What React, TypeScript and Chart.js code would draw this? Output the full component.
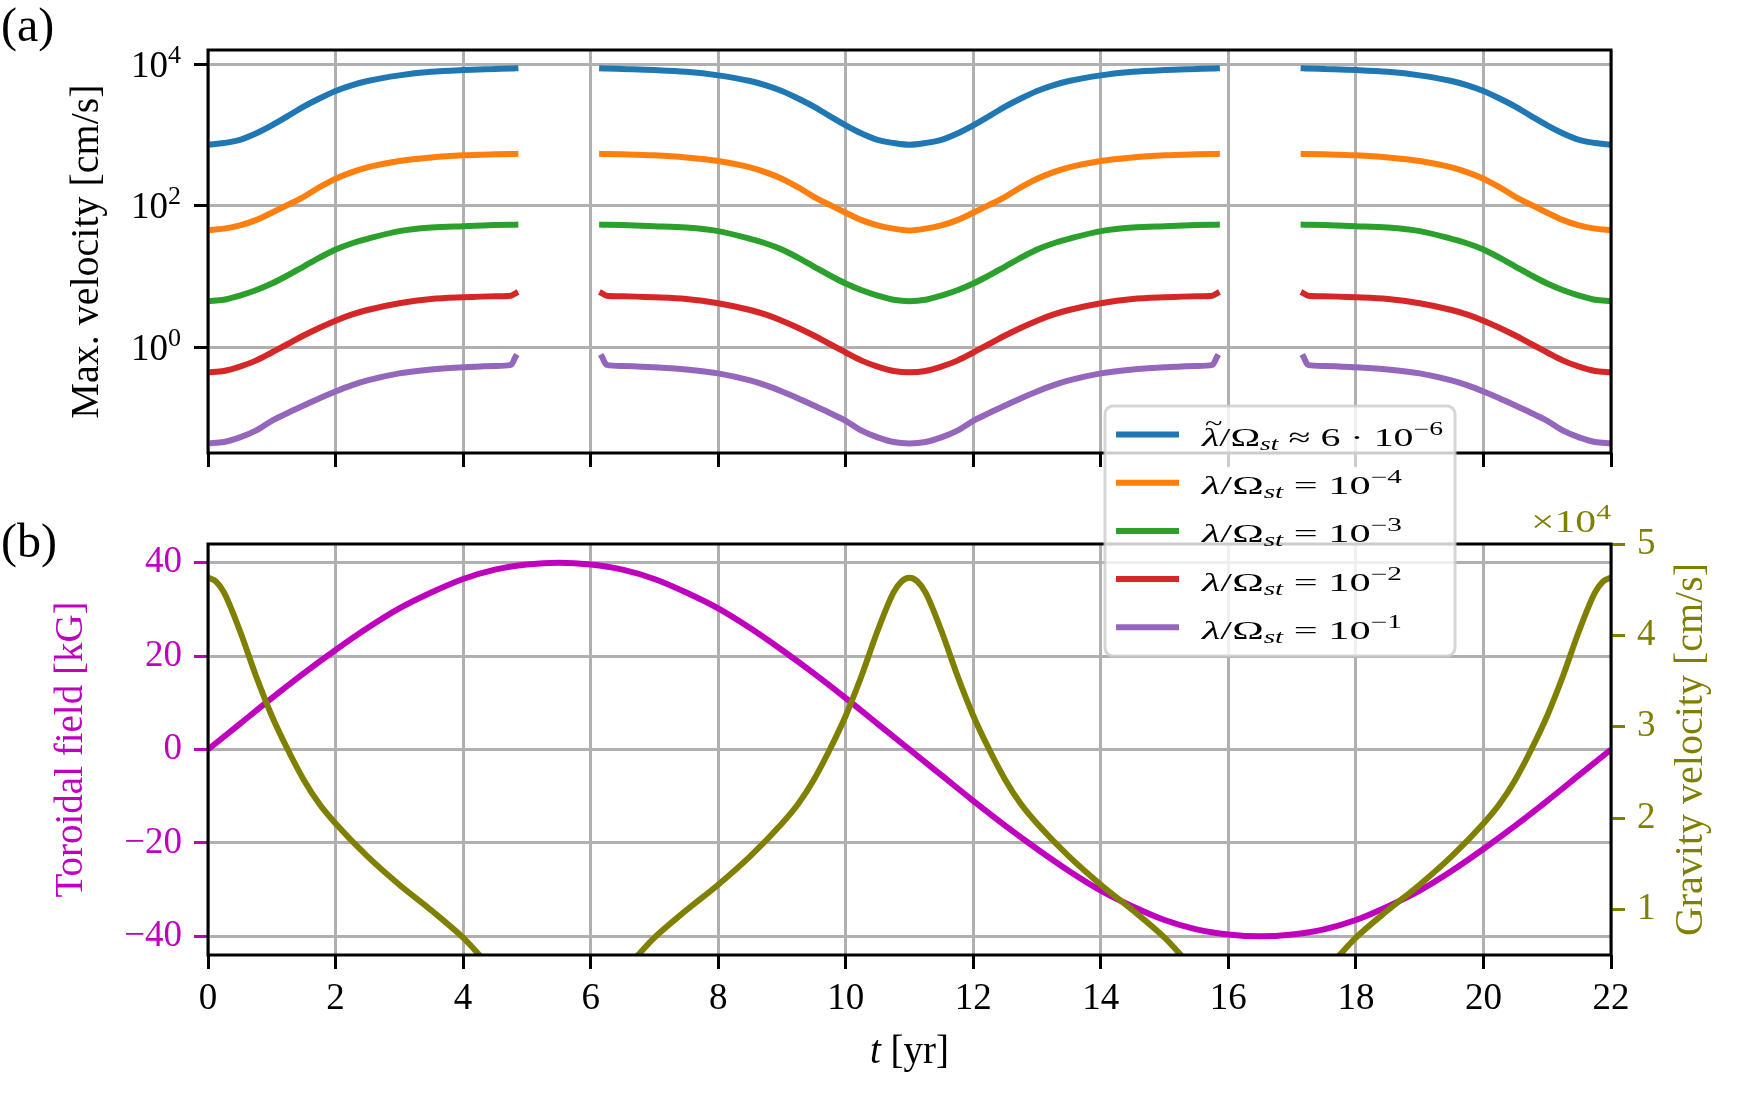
import React, { useEffect, useRef } from 'react';
import { Chart, registerables } from 'chart.js';

Chart.register(...registerables);

const W = 1744;
const H = 1102;
const SERIF = '"Liberation Serif", "DejaVu Serif", serif';
const GRID = '#b0b0b0';
const MAGENTA = '#bf00bf';
const OLIVE = '#808000';

// (a) max. velocity [cm/s] vs time [yr]; the null rows are the gaps near field maximum
const velTime = [
  0, 0.25, 0.5, 0.75, 1, 1.25, 1.5, 1.75, 2, 2.25, 2.5, 3, 3.5, 4, 4.5, 4.75, 4.82,
  5.5,
  6.18, 6.25, 6.5, 7, 7.5, 8, 8.5, 8.75, 9, 9.25, 9.5, 9.75, 10, 10.25, 10.5, 10.75, 11,
  11.25, 11.5, 11.75, 12, 12.25, 12.5, 12.75, 13, 13.25, 13.5, 14, 14.5, 15, 15.5, 15.75, 15.82,
  16.5,
  17.18, 17.25, 17.5, 18, 18.5, 19, 19.5, 19.75, 20, 20.25, 20.5, 20.75, 21, 21.25, 21.5, 21.75, 22,
];
const velBlue = [
  724, 767, 851, 1047, 1365, 1841, 2512, 3273, 4169, 5012, 5754, 6918, 7762, 8222, 8511, 8650, 8710,
  null,
  8710, 8650, 8511, 8222, 7762, 6918, 5754, 5012, 4169, 3273, 2512, 1841, 1365, 1047, 851, 767, 724,
  767, 851, 1047, 1365, 1841, 2512, 3273, 4169, 5012, 5754, 6918, 7762, 8222, 8511, 8650, 8710,
  null,
  8710, 8650, 8511, 8222, 7762, 6918, 5754, 5012, 4169, 3273, 2512, 1841, 1365, 1047, 851, 767, 724,
];
const velOrange = [
  44.7, 47.3, 52.5, 62.4, 79.4, 102.3, 133.4, 182.0, 239.9, 295.1, 346.7, 426.6, 478.6, 512.9, 530.9, 537.0, 538.3,
  null,
  538.3, 537.0, 530.9, 512.9, 478.6, 426.6, 346.7, 295.1, 239.9, 182.0, 133.4, 102.3, 79.4, 62.4, 52.5, 47.3, 44.7,
  47.3, 52.5, 62.4, 79.4, 102.3, 133.4, 182.0, 239.9, 295.1, 346.7, 426.6, 478.6, 512.9, 530.9, 537.0, 538.3,
  null,
  538.3, 537.0, 530.9, 512.9, 478.6, 426.6, 346.7, 295.1, 239.9, 182.0, 133.4, 102.3, 79.4, 62.4, 52.5, 47.3, 44.7,
];
const velGreen = [
  4.47, 4.68, 5.37, 6.38, 7.94, 10.35, 13.8, 18.41, 23.99, 29.17, 33.88, 43.65, 48.98, 51.29, 53.09, 53.7, 53.83,
  null,
  53.83, 53.7, 53.09, 51.29, 48.98, 43.65, 33.88, 29.17, 23.99, 18.41, 13.8, 10.35, 7.94, 6.38, 5.37, 4.68, 4.47,
  4.68, 5.37, 6.38, 7.94, 10.35, 13.8, 18.41, 23.99, 29.17, 33.88, 43.65, 48.98, 51.29, 53.09, 53.7, 53.83,
  null,
  53.83, 53.7, 53.09, 51.29, 48.98, 43.65, 33.88, 29.17, 23.99, 18.41, 13.8, 10.35, 7.94, 6.38, 5.37, 4.68, 4.47,
];
const velRed = [
  0.442, 0.462, 0.531, 0.646, 0.841, 1.109, 1.462, 1.884, 2.371, 2.884, 3.35, 4.169, 4.786, 5.07, 5.248, 5.346, 5.754,
  null,
  5.754, 5.346, 5.248, 5.07, 4.786, 4.169, 3.35, 2.884, 2.371, 1.884, 1.462, 1.109, 0.841, 0.646, 0.531, 0.462, 0.442,
  0.462, 0.531, 0.646, 0.841, 1.109, 1.462, 1.884, 2.371, 2.884, 3.35, 4.169, 4.786, 5.07, 5.248, 5.346, 5.754,
  null,
  5.754, 5.346, 5.248, 5.07, 4.786, 4.169, 3.35, 2.884, 2.371, 1.884, 1.462, 1.109, 0.841, 0.646, 0.531, 0.462, 0.442,
];
const velPurple = [
  0.0437, 0.0457, 0.0531, 0.0661, 0.0912, 0.1175, 0.1496, 0.1905, 0.2371, 0.2884, 0.3388, 0.4266, 0.4842, 0.5188, 0.5433, 0.5623, 0.7244,
  null,
  0.7244, 0.5623, 0.5433, 0.5188, 0.4842, 0.4266, 0.3388, 0.2884, 0.2371, 0.1905, 0.1496, 0.1175, 0.0912, 0.0661, 0.0531, 0.0457, 0.0437,
  0.0457, 0.0531, 0.0661, 0.0912, 0.1175, 0.1496, 0.1905, 0.2371, 0.2884, 0.3388, 0.4266, 0.4842, 0.5188, 0.5433, 0.5623, 0.7244,
  null,
  0.7244, 0.5623, 0.5433, 0.5188, 0.4842, 0.4266, 0.3388, 0.2884, 0.2371, 0.1905, 0.1496, 0.1175, 0.0912, 0.0661, 0.0531, 0.0457, 0.0437,
];
const velColors = ['#1f77b4', '#ff7f0e', '#2ca02c', '#d62728', '#9467bd'];
const velExponents = ['\u22126', '\u22124', '\u22123', '\u22122', '\u22121'];
const velTicks = [1, 100, 10000];

// (b) toroidal field [kG] and gravity velocity [cm/s]
const fieldTime = [
  0, 0.5, 1, 1.5, 2, 2.5, 3, 3.5, 4, 4.5, 5, 5.5, 6, 6.5, 7, 7.5, 8, 8.5, 9, 9.5, 10, 10.5, 11,
  11.5, 12, 12.5, 13, 13.5, 14, 14.5, 15, 15.5, 16, 16.5, 17, 17.5, 18, 18.5, 19, 19.5, 20, 20.5, 21, 21.5, 22,
];
const fieldKG = [
  0, 5.5, 11, 16.3, 21.3, 26, 30.2, 33.6, 36.5, 38.5, 39.6, 40, 39.6, 38.5, 36.5, 33.6, 30.2, 26, 21.3, 16.3, 11, 5.5, 0,
  -5.5, -11, -16.3, -21.3, -26, -30.2, -33.6, -36.5, -38.5, -39.6, -40, -39.6, -38.5, -36.5, -33.6, -30.2, -26, -21.3, -16.3, -11, -5.5, 0,
];
const fieldTicks = [-40, -20, 0, 20, 40];
const gravTime = [
  0, 0.125, 0.25, 0.5, 0.75, 1, 1.25, 1.5, 1.75, 2, 2.5, 3, 3.5, 4, 4.5, 5, 5.5,
  6, 6.5, 7, 7.5, 8, 8.5, 9, 9.25, 9.5, 9.75, 10, 10.25, 10.5, 10.75, 10.875, 11,
  11.125, 11.25, 11.5, 11.75, 12, 12.25, 12.5, 12.75, 13, 13.5, 14, 14.5, 15, 15.5, 16, 16.5,
  17, 17.5, 18, 18.5, 19, 19.5, 20, 20.25, 20.5, 20.75, 21, 21.25, 21.5, 21.75, 21.875, 22,
];
const gravVel = [
  46300, 45900, 44700, 40500, 35600, 31200, 27500, 24200, 21500, 19400, 15800, 12700, 9900, 6900, 3300, 1500, 1000,
  1500, 3300, 6900, 9900, 12700, 15800, 19400, 21500, 24200, 27500, 31200, 35600, 40500, 44700, 45900, 46300,
  45900, 44700, 40500, 35600, 31200, 27500, 24200, 21500, 19400, 15800, 12700, 9900, 6900, 3300, 1500, 1000,
  1500, 3300, 6900, 9900, 12700, 15800, 19400, 21500, 24200, 27500, 31200, 35600, 40500, 44700, 45900, 46300,
];
const gravTicks = [10000, 20000, 30000, 40000, 50000];
const yearTicks = [0, 2, 4, 6, 8, 10, 12, 14, 16, 18, 20, 22];

type Part = { t: string; size: number; italic?: boolean; dy?: number; tilde?: boolean };

const setFont = (ctx: CanvasRenderingContext2D, p: Part) => {
  ctx.font = `${p.italic ? 'italic ' : ''}${p.size}px ${SERIF}`;
};

const partsWidth = (ctx: CanvasRenderingContext2D, parts: Part[]) => {
  let w = 0;
  for (const p of parts) {
    setFont(ctx, p);
    w += ctx.measureText(p.t).width;
  }
  return w;
};

// draws a run of text pieces; if width is given the run is stretched to it
const drawParts = (ctx: CanvasRenderingContext2D, parts: Part[], x: number, y: number, width?: number) => {
  ctx.save();
  ctx.textAlign = 'left';
  ctx.textBaseline = 'alphabetic';
  ctx.translate(x, y);
  if (width) ctx.scale(width / partsWidth(ctx, parts), 1);
  let cx = 0;
  for (const p of parts) {
    setFont(ctx, p);
    const w = ctx.measureText(p.t).width;
    ctx.fillText(p.t, cx, p.dy ?? 0);
    if (p.tilde) {
      ctx.font = `${Math.round(p.size * 0.8)}px ${SERIF}`;
      ctx.textAlign = 'center';
      ctx.fillText('~', cx + w / 2 + 2, -p.size * 0.62);
      ctx.textAlign = 'left';
    }
    cx += w;
  }
  ctx.restore();
};

const drawRotated = (ctx: CanvasRenderingContext2D, text: string, x: number, y: number, size: number, color: string) => {
  ctx.save();
  ctx.translate(x, y);
  ctx.rotate(-Math.PI / 2);
  ctx.font = `${size}px ${SERIF}`;
  ctx.fillStyle = color;
  ctx.textAlign = 'center';
  ctx.textBaseline = 'alphabetic';
  ctx.fillText(text, 0, 0);
  ctx.restore();
};

const frame = (chart: Chart) => {
  const { ctx, chartArea: a } = chart;
  ctx.save();
  ctx.strokeStyle = '#000';
  ctx.lineWidth = 3;
  ctx.strokeRect(a.left, a.top, a.right - a.left, a.bottom - a.top);
  ctx.restore();
};

const panelA = {
  id: 'panelA',
  afterDraw(chart: Chart) {
    const { ctx, chartArea: a } = chart;
    frame(chart);
    ctx.save();
    ctx.fillStyle = '#000';
    // log tick labels with superscript exponents
    const ys = chart.scales.y;
    for (const v of velTicks) {
      const py = ys.getPixelForValue(v);
      const parts: Part[] = [
        { t: '10', size: 37 },
        { t: String(Math.round(Math.log10(v))), size: 26, dy: -14 },
      ];
      drawParts(ctx, parts, a.left - 27 - partsWidth(ctx, parts), py + 12.5);
    }
    drawRotated(ctx, 'Max. velocity [cm/s]', 98, (a.top + a.bottom) / 2, 40, '#000');
    ctx.fillStyle = '#000';
    drawParts(ctx, [{ t: '(a)', size: 48 }], 1, 41);

    // legend
    const lx = 1105;
    const ly = 406;
    const lw = 350;
    const lh = 250;
    const r = 8;
    ctx.beginPath();
    ctx.moveTo(lx + r, ly);
    ctx.arcTo(lx + lw, ly, lx + lw, ly + lh, r);
    ctx.arcTo(lx + lw, ly + lh, lx, ly + lh, r);
    ctx.arcTo(lx, ly + lh, lx, ly, r);
    ctx.arcTo(lx, ly, lx + lw, ly, r);
    ctx.closePath();
    ctx.fillStyle = 'rgba(255,255,255,0.8)';
    ctx.fill();
    ctx.strokeStyle = 'rgba(204,204,204,0.8)';
    ctx.lineWidth = 3;
    ctx.stroke();
    velColors.forEach((c, i) => {
      const hy = 434.5 + i * 48.2;
      ctx.strokeStyle = c;
      ctx.lineWidth = 6;
      ctx.beginPath();
      ctx.moveTo(1116, hy);
      ctx.lineTo(1179, hy);
      ctx.stroke();
      ctx.fillStyle = '#000';
      const parts: Part[] = [
        { t: '\u03bb', size: 26, italic: true, tilde: i === 0 },
        { t: '/\u03a9', size: 26 },
        { t: 'st', size: 18, italic: true, dy: 4 },
        { t: i === 0 ? ' \u2248 6 \u00b7 10' : ' = 10', size: 26 },
        { t: velExponents[i], size: 18, dy: -11 },
      ];
      drawParts(ctx, parts, 1202, hy + 11.5, i === 0 ? 241 : 200);
    });
    ctx.restore();
  },
};

const panelB = {
  id: 'panelB',
  afterDraw(chart: Chart) {
    const { ctx, chartArea: a } = chart;
    frame(chart);
    ctx.save();
    const cy = (a.top + a.bottom) / 2;
    drawRotated(ctx, 'Toroidal field [kG]', 82, cy, 39, MAGENTA);
    drawRotated(ctx, 'Gravity velocity [cm/s]', 1702, cy, 40, OLIVE);
    ctx.fillStyle = OLIVE;
    drawParts(
      ctx,
      [
        { t: '\u00d710', size: 31 },
        { t: '4', size: 22, dy: -13 },
      ],
      a.right - 80,
      532,
      80,
    );
    ctx.fillStyle = '#000';
    const xt: Part[] = [
      { t: 't', size: 39, italic: true },
      { t: ' [yr]', size: 39 },
    ];
    drawParts(ctx, xt, (a.left + a.right) / 2 - partsWidth(ctx, xt) / 2, 1063);
    drawParts(ctx, [{ t: '(b)', size: 48 }], 1, 557);
    ctx.restore();
  },
};

const tickFont = { family: SERIF, size: 37 };

const App: React.FC = () => {
  const topRef = useRef<HTMLCanvasElement>(null);
  const bottomRef = useRef<HTMLCanvasElement>(null);

  useEffect(() => {
    if (!topRef.current || !bottomRef.current) return;

    const velSeries = [velBlue, velOrange, velGreen, velRed, velPurple];
    const chartA = new Chart(topRef.current, {
      type: 'line',
      data: {
        datasets: velSeries.map((vals, i) => ({
          label: `lambda ${velExponents[i]}`,
          data: velTime.map((t, k) => ({ x: t, y: vals[k] })),
          borderColor: velColors[i],
          borderWidth: 6,
          pointRadius: 0,
          borderCapStyle: 'square' as const,
          cubicInterpolationMode: 'monotone' as const,
          spanGaps: false,
          fill: false,
          order: velSeries.length - i,
        })),
      },
      options: {
        responsive: false,
        animation: false,
        devicePixelRatio: 1,
        events: [],
        layout: { padding: { left: 0, top: 50, right: W - 1611, bottom: H - 453 - 14 } },
        plugins: { legend: { display: false }, tooltip: { enabled: false } },
        scales: {
          x: {
            type: 'linear',
            min: 0,
            max: 22,
            afterBuildTicks: (s: any) => {
              s.ticks = yearTicks.map((v) => ({ value: v }));
            },
            ticks: { display: false },
            grid: { color: GRID, lineWidth: 3, tickLength: 14, tickWidth: 3, tickColor: '#000' },
            border: { display: false },
            afterFit: (s: any) => {
              s.height = 14;
            },
          },
          y: {
            type: 'logarithmic',
            min: 0.032,
            max: 15800,
            afterBuildTicks: (s: any) => {
              s.ticks = velTicks.map((v) => ({ value: v }));
            },
            ticks: { display: false },
            grid: { color: GRID, lineWidth: 3, tickLength: 14, tickWidth: 3, tickColor: '#000' },
            border: { display: false },
            afterFit: (s: any) => {
              s.width = 208;
            },
          },
        },
      },
      plugins: [panelA],
    });

    const chartB = new Chart(bottomRef.current, {
      type: 'line',
      data: {
        datasets: [
          {
            label: 'Toroidal field',
            yAxisID: 'y',
            data: fieldTime.map((t, k) => ({ x: t, y: fieldKG[k] })),
            borderColor: MAGENTA,
            borderWidth: 6,
            pointRadius: 0,
            cubicInterpolationMode: 'monotone',
            fill: false,
            order: 2,
          },
          {
            label: 'Gravity velocity',
            yAxisID: 'g',
            data: gravTime.map((t, k) => ({ x: t, y: gravVel[k] })),
            borderColor: OLIVE,
            borderWidth: 6,
            pointRadius: 0,
            cubicInterpolationMode: 'monotone',
            fill: false,
            order: 1,
          },
        ],
      },
      options: {
        responsive: false,
        animation: false,
        devicePixelRatio: 1,
        events: [],
        layout: { padding: { left: 0, top: 544, right: 0, bottom: 0 } },
        plugins: { legend: { display: false }, tooltip: { enabled: false } },
        scales: {
          x: {
            type: 'linear',
            min: 0,
            max: 22,
            afterBuildTicks: (s: any) => {
              s.ticks = yearTicks.map((v) => ({ value: v }));
            },
            ticks: { color: '#000', font: tickFont, padding: 8, maxRotation: 0, autoSkip: false },
            grid: { color: GRID, lineWidth: 3, tickLength: 14, tickWidth: 3, tickColor: '#000' },
            border: { display: false },
            afterFit: (s: any) => {
              s.height = H - 955;
            },
          },
          y: {
            type: 'linear',
            position: 'left',
            min: -44,
            max: 44,
            afterBuildTicks: (s: any) => {
              s.ticks = fieldTicks.map((v) => ({ value: v }));
            },
            ticks: {
              color: MAGENTA,
              font: tickFont,
              padding: 12,
              callback: (v: any) => (Number(v) < 0 ? '\u2212' + Math.abs(Number(v)) : String(v)),
            },
            grid: { color: GRID, lineWidth: 3, tickLength: 14, tickWidth: 3, tickColor: MAGENTA },
            border: { display: false },
            afterFit: (s: any) => {
              s.width = 208;
            },
          },
          g: {
            type: 'linear',
            position: 'right',
            min: 5000,
            max: 50000,
            afterBuildTicks: (s: any) => {
              s.ticks = gravTicks.map((v) => ({ value: v }));
            },
            ticks: {
              color: OLIVE,
              font: tickFont,
              padding: 12,
              callback: (v: any) => String(Number(v) / 10000),
            },
            grid: { drawOnChartArea: false, tickLength: 14, tickWidth: 3, tickColor: OLIVE },
            border: { display: false },
            afterFit: (s: any) => {
              s.width = W - 1611;
            },
          },
        },
      },
      plugins: [panelB],
    });

    return () => {
      chartA.destroy();
      chartB.destroy();
    };
  }, []);

  return (
    <div style={{ position: 'absolute', left: 0, top: 0, width: W, height: H, background: '#fff', overflow: 'hidden' }}>
      <canvas ref={bottomRef} width={W} height={H} style={{ position: 'absolute', left: 0, top: 0 }} />
      <canvas ref={topRef} width={W} height={H} style={{ position: 'absolute', left: 0, top: 0 }} />
    </div>
  );
};

export default App;
